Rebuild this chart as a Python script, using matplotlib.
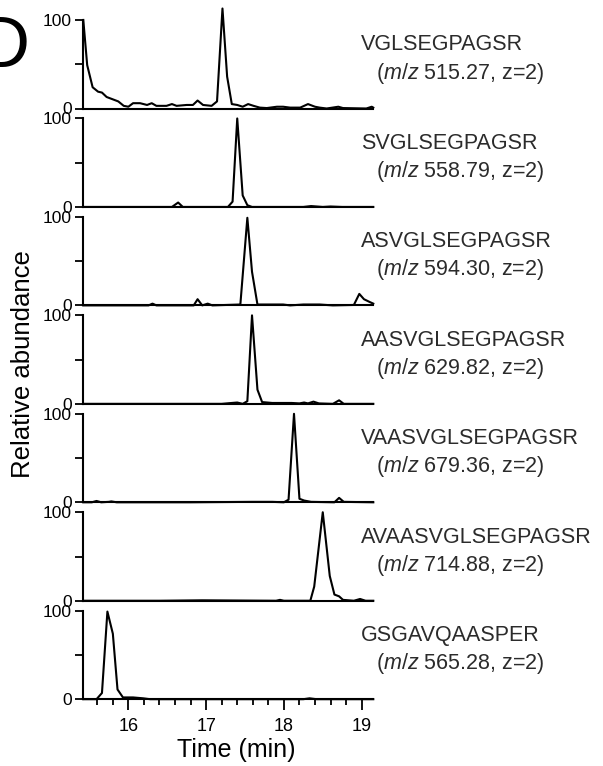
import matplotlib
matplotlib.use('Agg')
import matplotlib.pyplot as plt
from matplotlib.ticker import FixedLocator

plt.rcParams['font.family'] = ['Liberation Sans', 'DejaVu Sans']
plt.rcParams['mathtext.fontset'] = 'custom'
plt.rcParams['mathtext.rm'] = 'Liberation Sans'
plt.rcParams['mathtext.it'] = 'Liberation Sans:italic'

# ---------------- data ----------------
peptides = ["VGLSEGPAGSR", "SVGLSEGPAGSR", "ASVGLSEGPAGSR", "AASVGLSEGPAGSR",
            "VAASVGLSEGPAGSR", "AVAASVGLSEGPAGSR", "GSGAVQAASPER"]
mz_values = ["515.27", "558.79", "594.30", "629.82", "679.36", "714.88", "565.28"]
charges = [2, 2, 2, 2, 2, 2, 2]

t1 = [15.42, 15.47, 15.54, 15.61, 15.66, 15.72, 15.81, 15.87, 15.94, 16.00, 16.06, 16.15,
      16.24, 16.30, 16.36, 16.49, 16.56, 16.62, 16.75, 16.83, 16.89, 16.96, 17.07, 17.14,
      17.21, 17.27, 17.33, 17.40, 17.47, 17.54, 17.61, 17.69, 17.78, 17.91, 17.99, 18.08,
      18.21, 18.31, 18.40, 18.46, 18.55, 18.70, 18.76, 19.06, 19.13, 19.15]
v1 = [100, 49, 24, 19, 18, 13, 10, 8, 3, 2, 6, 6,
      4, 6, 3, 3, 5, 3, 4, 4, 9, 4, 3, 8,
      113, 36, 5, 4, 2, 5, 3, 1, 0.5, 2, 2, 1,
      1, 5, 2, 1, 0, 2, 0.5, 0, 2, 1]

t2 = [15.42, 16.49, 16.56, 16.64, 16.70, 17.28, 17.34, 17.40, 17.47, 17.53, 17.59,
      18.00, 18.25, 18.35, 18.50, 18.60, 18.75, 19.15]
v2 = [0, 0, 0, 5, 0, 0, 6, 100, 13, 2, 0,
      0, 0, 1, 0, 0.5, 0, 0]

t3 = [15.42, 16.26, 16.31, 16.36, 16.84, 16.89, 16.95, 17.02, 17.08, 17.44, 17.53, 17.59,
      17.66, 17.99, 18.08, 18.25, 18.46, 18.63, 18.90, 18.97, 19.03, 19.10, 19.15]
v3 = [0, 0, 2, 0, 0, 7, 0, 2, 0, 1, 99, 38,
      1, 1, 0, 1, 1, 0, 0.5, 13, 7, 4, 2]

t4 = [15.42, 17.20, 17.33, 17.40, 17.47, 17.53, 17.59, 17.66, 17.72, 17.85, 18.10, 18.20,
      18.26, 18.31, 18.38, 18.45, 18.63, 18.71, 18.77, 19.15]
v4 = [0, 0, 1, 1.5, 0, 3, 100, 16, 2, 1, 1, 0.5,
      1.5, 0.5, 2.5, 0.5, 0, 4, 0, 0]

t5 = [15.42, 15.53, 15.59, 15.65, 15.75, 15.78, 15.85, 16.80, 17.60, 17.85, 18.00, 18.06,
      18.13, 18.20, 18.26, 18.35, 18.65, 18.71, 18.77, 19.15]
v5 = [0, 0, 1.5, 0, 0.5, 1, 0, 0, 0.5, 0.5, 0, 3,
      100, 4, 2, 0.5, 0, 5, 0.5, 0]

t6 = [15.42, 16.40, 16.95, 17.90, 17.95, 18.00, 18.34, 18.39, 18.50, 18.59, 18.65, 18.71,
      18.76, 18.90, 18.98, 19.05, 19.15]
v6 = [0, 0, 0.5, 0, 1, 0, 0, 16, 100, 28, 7, 5,
      1, 0, 2, 0, 0]

t7 = [15.42, 15.59, 15.66, 15.73, 15.80, 15.86, 15.93, 16.06, 16.19, 16.28, 18.25, 18.33,
      18.42, 19.15]
v7 = [0, 0, 7, 99, 74, 11, 2, 2, 1, 0, 0, 1,
      0, 0]

times = [t1, t2, t3, t4, t5, t6, t7]
abund = [v1, v2, v3, v4, v5, v6, v7]

x_major = [16, 17, 18, 19]
x_minor = [15.6, 15.8, 16.2, 16.4, 16.6, 16.8, 17.2, 17.4, 17.6, 17.8,
           18.2, 18.4, 18.6, 18.8]

# ---------------- layout ----------------
W, H = 603, 766
fig = plt.figure(figsize=(W / 100, H / 100), dpi=100)
x0, x1 = 83.3, 373.3
top0, step, ph = 20.0, 98.45, 88.5
lw = 1.5

for i in range(7):
    top = top0 + step * i
    ax = fig.add_axes([x0 / W, 1 - (top + ph) / H, (x1 - x0) / W, ph / H])
    ax.patch.set_alpha(0)
    ax.plot(times[i], abund[i], color='black', lw=lw, clip_on=False)
    ax.set_xlim(15.42, 19.15)
    ax.set_ylim(0, 100)
    for s in ['top', 'right']:
        ax.spines[s].set_visible(False)
    for s in ['left', 'bottom']:
        ax.spines[s].set_linewidth(lw)
    ax.set_yticks([0, 50, 100])
    ax.set_yticklabels(['0', '', '100'])
    ax.tick_params(axis='y', direction='out', length=5.8, width=1.3, pad=2.5,
                   labelsize=12.5)
    if i < 6:
        ax.tick_params(axis='x', which='both', bottom=False, labelbottom=False)
    else:
        ax.xaxis.set_major_locator(FixedLocator(x_major))
        ax.xaxis.set_minor_locator(FixedLocator(x_minor))
        ax.set_xticklabels([str(v) for v in x_major])
        ax.tick_params(axis='x', which='major', direction='out', length=8, width=1.3,
                       pad=5.5, labelsize=13)
        ax.tick_params(axis='x', which='minor', direction='out', length=4.5, width=1.3)

    fig.text(361 / W, 1 - (top + 25) / H, peptides[i], ha='left', va='center',
             fontsize=15.5, color='#2b2b2b')
    fig.text(376 / W, 1 - (top + 53) / H,
             r"($\it{m/z}$ %s, z=%d)" % (mz_values[i], charges[i]),
             ha='left', va='center', fontsize=15.5, color='#2b2b2b')

fig.text(23 / W, 1 - 364 / H, 'Relative abundance', rotation=90, ha='center',
         va='center', fontsize=18.5)
fig.text(236 / W, 1 - 757 / H, 'Time (min)', ha='center', va='baseline',
         fontsize=18)
fig.text(29 / W, 1 - 67 / H, 'D', ha='right', va='baseline', fontsize=52)

fig.savefig('out.png', dpi=100)
